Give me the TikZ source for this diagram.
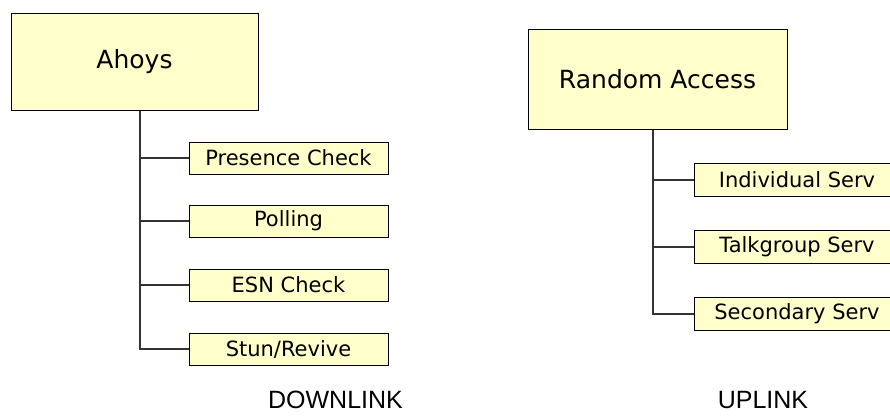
\documentclass[tikz,border=0pt]{standalone}
\usepackage{fontspec}
\setmainfont{DejaVu Sans}
\newfontfamily\arialfont{Liberation Sans}
\definecolor{boxfill}{HTML}{FFFFCC}
\begin{document}
\begin{tikzpicture}[x=1pt, y=-1pt, line width=1pt]
    \tikzstyle{rootbox}=[draw=black, fill=boxfill, inner sep=0pt, font=\fontsize{25}{30}\selectfont]
    \tikzstyle{leafbox}=[draw=black, fill=boxfill, inner sep=0pt, minimum height=32pt, font=\fontsize{21}{25}\selectfont]
    \tikzstyle{linkname}=[anchor=base, inner sep=0pt, font=\arialfont\fontsize{25}{30}\selectfont]
    \tikzstyle{branch}=[draw=black!80, line width=1.2pt]
    
    \clip (0,0) rectangle (890,416);
    
    % downlink side
    \node[rootbox, minimum width=247pt, minimum height=97pt] (ah) at (134.5,61.5) {Ahoys};
    \foreach \name/\y/\txt in {pc/158/Presence Check, po/221/Polling, esn/285/ESN Check, stun/349/{Stun/Revive}} {
        \node[leafbox, minimum width=199pt] (\name) at (288.5,\y) {\txt};
        \draw[branch] ([xshift=5.5pt]ah.south) |- (\name.west);
    }
    \node[linkname] (dl) at (335.5,408) {DOWNLINK};
    
    % uplink side
    \node[rootbox, minimum width=259pt, minimum height=100pt] (ra) at (657.5,79) {Random Access};
    \foreach \name/\y/\txt in {ind/180/Individual Serv, tg/247/Talkgroup Serv, sec/314/Secondary Serv} {
        \node[leafbox, minimum width=206pt, minimum height=33pt] (\name) at (797,\y) {\txt};
        \draw[branch] ([xshift=-4.5pt]ra.south) |- (\name.west);
    }
    \node[linkname] (ul) at (763,408) {UPLINK};
\end{tikzpicture}
\end{document}
